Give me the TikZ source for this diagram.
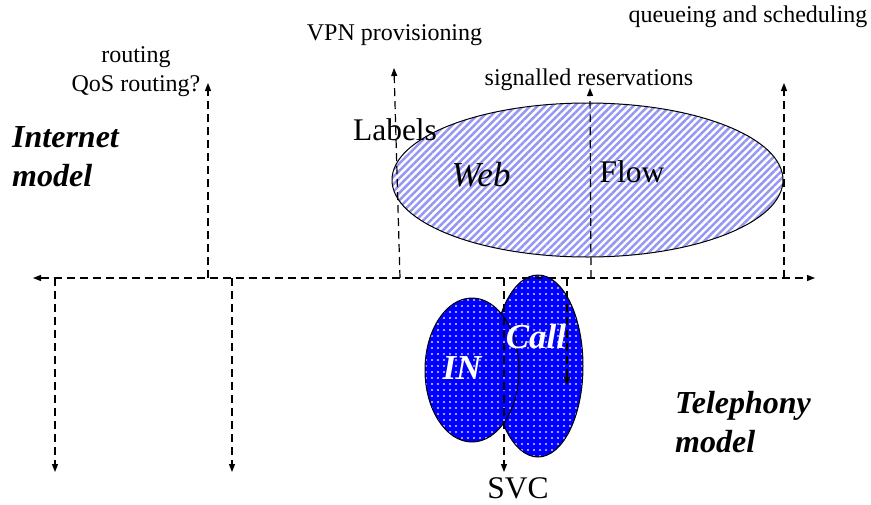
\documentclass[tikz,border=0pt]{standalone}
\usepackage{fontspec}
\setmainfont{Liberation Serif}
\usetikzlibrary{arrows.meta,patterns.meta,shapes.geometric}
\begin{document}
\begin{tikzpicture}[x=1pt,y=-1pt,
  dashline/.style={dash pattern=on 8pt off 5pt, line width=1.2pt, black},
  tipend/.style={-{Triangle[length=8pt,width=6pt]}},
  small/.style={font=\fontsize{24}{29}\selectfont, inner sep=0pt},
  big/.style={font=\fontsize{31.5}{38}\selectfont, inner sep=0pt},
  model/.style={font=\fontsize{32}{39}\selectfont\bfseries\itshape, inner sep=0pt, align=left, anchor=west},
  inner/.style={font=\fontsize{35}{40}\selectfont\bfseries\itshape, text=white, inner sep=0pt},
  stripes/.style={ellipse, draw, line width=1pt, inner sep=0pt,
    preaction={fill=white},
    pattern={Lines[angle=45,distance=5.2pt,line width=2.5pt]},
    pattern color={rgb,255:red,150;green,150;blue,245}},
  dotted blue/.style={ellipse, draw, line width=1pt, inner sep=0pt,
    preaction={fill={rgb,255:red,0;green,0;blue,255}},
    pattern={Dots[distance=6pt,radius=1.1pt]},
    pattern color={rgb,255:red,215;green,215;blue,255}}
]
\useasboundingbox (0,0) rectangle (871,504);

% shapes
\node[stripes, minimum width=391pt, minimum height=154pt] (webflow) at (587.5,180) {};
\node[dotted blue, minimum width=90pt, minimum height=182pt] (call) at (538,366) {};
\node[dotted blue, minimum width=94pt, minimum height=144pt] (in) at (472,370) {};

% coordinates
\coordinate (hl) at (33,278);
\coordinate (hr) at (815,278);
\coordinate (r0) at (208,278);  \coordinate (r1) at (208,83);
\coordinate (v0) at (400,278);  \coordinate (v1) at (394,68);
\coordinate (s0) at (591,278);  \coordinate (s1) at (590,88);
\coordinate (q0) at (784,278);  \coordinate (q1) at (784,83);
\coordinate (d10) at (55,278);  \coordinate (d11) at (55,472);
\coordinate (d20) at (232,278); \coordinate (d21) at (232,472);
\coordinate (sv0) at (504,278); \coordinate (sv1) at (504,472);
\coordinate (c0) at (567,278);  \coordinate (c1) at (567,385);

% connectors
\draw[dashline,{Triangle[length=8pt,width=6pt]}-{Triangle[length=8pt,width=6pt]}] (hl) -- (hr);
\foreach \a/\b in {r0/r1,v0/v1,s0/s1,q0/q1,d10/d11,d20/d21,sv0/sv1,c0/c1}
  \draw[dashline,tipend] (\a) -- (\b);

% texts
\node[small,align=center] (routing) at (136,72) {routing\\QoS routing?};
\node[small] (vpn) at (394.5,35) {VPN provisioning};
\node[small] (sig) at (589,80) {signalled reservations};
\node[small] (qs) at (748,17) {queueing and scheduling};
\node[big] (labels) at (395,130) {Labels};
\node[model] (internet) at (12,157) {Internet\\model};
\node[model] (telephony) at (675,422) {Telephony\\model};
\node[font=\fontsize{35}{40}\selectfont\itshape, inner sep=0pt] (web) at (481,175) {Web};
\node[big] (flow) at (632,172) {Flow};
\node[inner] (inlabel) at (462,368) {IN};
\node[inner] (calllabel) at (536,337) {Call};
\node[big] (svc) at (518,488) {SVC};
\end{tikzpicture}
\end{document}
